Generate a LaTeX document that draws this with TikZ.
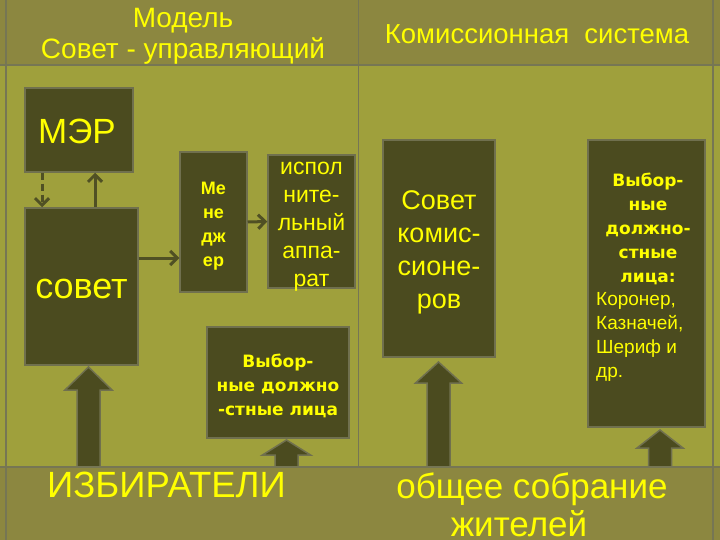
\documentclass[tikz,border=0pt]{standalone}
\usepackage{fontspec}
\setmainfont{Liberation Sans}
\newfontfamily\gothic{DejaVu Sans}
\usetikzlibrary{arrows.meta}
\definecolor{bgmain}{RGB}{159,160,60}
\definecolor{bgband}{RGB}{140,135,64}
\definecolor{boxfill}{RGB}{75,75,31}
\definecolor{boxline}{RGB}{112,112,78}
\definecolor{gridline}{RGB}{118,118,84}
\definecolor{txt}{RGB}{255,255,0}
\definecolor{conncol}{RGB}{80,80,36}
\newcommand\blockarr[5]{%
  \filldraw[barrow] (#1-11.5,#4) -- (#1-11.5,#3) -- (#1-#5,#3) -- (#1,#2) -- (#1+#5,#3) -- (#1+11.5,#3) -- (#1+11.5,#4) -- cycle;}
\begin{document}
\begin{tikzpicture}[x=1pt,y=-1pt,
  box/.style={draw=boxline,line width=1.5pt,fill=boxfill,inner sep=0pt},
  lbl/.style={text=txt,inner sep=0pt,align=center},
  conn/.style={draw=conncol,line width=3pt,-{Straight Barb[length=7pt,width=14pt,line width=3pt]}},
  barrow/.style={fill=boxfill,draw=boxline,line width=1.5pt,line join=miter},
  grid/.style={draw=gridline,line width=1.5pt}]
\useasboundingbox (0,0) rectangle (720,540);
% backgrounds
\fill[bgmain] (0,0) rectangle (720,540);
\fill[bgband] (0,0) rectangle (720,65);
% block arrows
\blockarr{88.5}{367}{390}{467}{23.5}
\blockarr{286.5}{440}{455}{467}{24}
\blockarr{438.5}{362}{383}{467}{23}
\blockarr{660}{430}{448}{467}{23}
\fill[bgband] (0,467) rectangle (720,540);
% grid lines
\draw[grid] (0,65) -- (720,65);
\draw[grid] (0,467) -- (720,467);
\draw[grid] (6,0) -- (6,540);
\draw[grid] (713,0) -- (713,540);
\draw[grid] (358.5,0) -- (358.5,467);
% header
\node[lbl,font=\fontsize{28}{32}\selectfont,anchor=base] (h1) at (183,28) {Модель};
\node[lbl,font=\fontsize{28}{32}\selectfont,anchor=base] (h2) at (183,59) {Совет - управляющий};
\node[lbl,font=\fontsize{27.5}{32}\selectfont,anchor=base] (h3) at (537,44) {Комиссионная~ система};
% left boxes
\node[box,minimum width=108pt,minimum height=84pt] (mer) at (79,130) {};
\node[lbl,font=\fontsize{35}{42}\selectfont] (mert) at (77,131) {МЭР};
\node[box,minimum width=113pt,minimum height=157pt] (sovet) at (81.5,286.5) {};
\node[lbl,font=\fontsize{36}{42}\selectfont] (sovett) at (81.5,289) {совет};
\node[box,minimum width=67pt,minimum height=140pt] (men) at (213.5,222) {};
\node[lbl,font=\bfseries\fontsize{18}{24}\selectfont] (ment) at (213.5,226) {Ме\\не\\дж\\ер};
\node[box,minimum width=87pt,minimum height=133pt] (isp) at (311.5,221.5) {};
\node[lbl,font=\fontsize{23}{28}\selectfont,anchor=north] (ispt) at (311.5,162) {испол\\ните-\\льный\\аппа-\\рат};
\node[box,minimum width=142pt,minimum height=111pt] (vyb1) at (278,382.5) {};
\node[lbl,font=\gothic\bfseries\fontsize{17}{24}\selectfont] (vyb1t) at (278,385.5) {Выбор-\\ные должно\\-стные лица};
% right boxes
\node[box,minimum width=112pt,minimum height=217pt] (kom) at (439,248.5) {};
\node[lbl,font=\fontsize{27}{33}\selectfont] (komt) at (439,252.5) {Совет\\комис-\\сионе-\\ров};
\node[box,minimum width=117pt,minimum height=287pt] (vyb2) at (646.5,283.5) {};
\node[lbl,font=\gothic\bfseries\fontsize{17}{24}\selectfont,anchor=north] (vyb2a) at (648,173) {Выбор-\\ные\\должно-\\стные\\лица:};
\node[lbl,font=\fontsize{19}{24}\selectfont,align=left,anchor=north west] (vyb2b) at (596,292) {Коронер,\\Казначей,\\Шериф и\\др.};
% connectors
\draw[conn,dash pattern=on 7pt off 4pt] (mer.south -| 42,0) -- (sovet.north -| 42,0);
\draw[conn] (sovet.north -| 95,0) -- (mer.south -| 95,0);
\draw[conn] (sovet.east |- 0,258) -- (men.west |- 0,258);
\draw[conn] (men.east) -- (isp.west);
% bottom texts
\node[lbl,font=\fontsize{36.5}{42}\selectfont,anchor=base west] (izb) at (47,497) {ИЗБИРАТЕЛИ};
\node[lbl,font=\fontsize{35}{42}\selectfont,anchor=base] (obs) at (532,498) {общее собрание};
\node[lbl,font=\fontsize{35}{42}\selectfont,anchor=base] (zhit) at (519,536) {жителей};
\end{tikzpicture}
\end{document}
